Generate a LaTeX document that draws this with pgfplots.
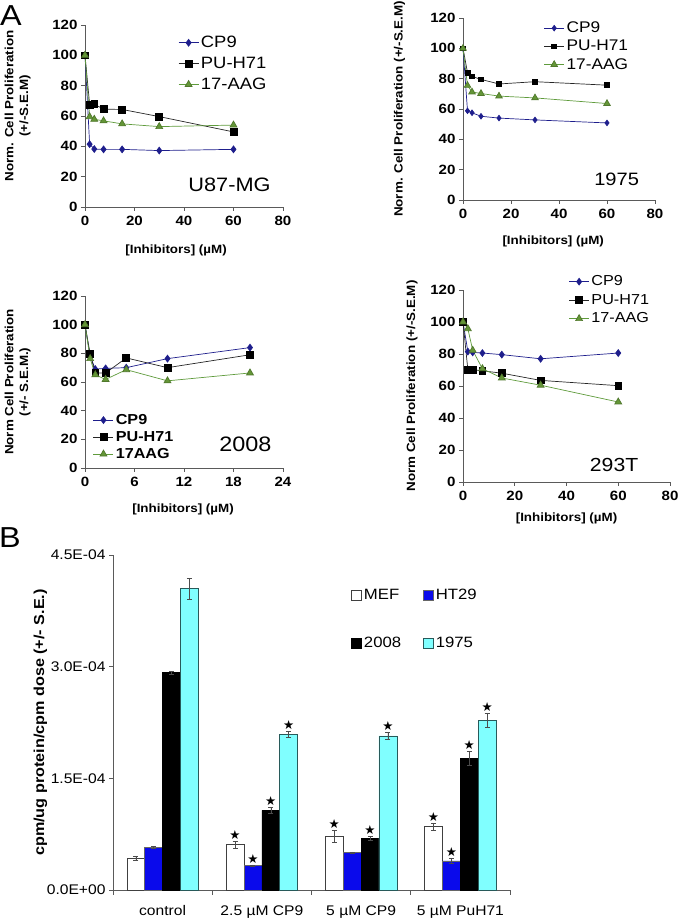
\documentclass[border=0pt]{standalone}
\usepackage{pgfplots}
\pgfplotsset{compat=1.18}
\usepackage{pgfplotstable}
\usepackage{fontspec}
\setmainfont{Liberation Sans}[FakeStretch=1.12]
\newfontfamily\symfont{DejaVu Sans}

\definecolor{cpblue}{RGB}{30,30,140}
\definecolor{aagfill}{RGB}{100,150,55}
\definecolor{aagline}{RGB}{95,155,60}
\definecolor{htblue}{RGB}{10,10,235}
\definecolor{cyanfill}{RGB}{128,255,255}
\definecolor{cyanedge}{RGB}{40,90,90}
\definecolor{axisgray}{RGB}{90,90,90}

\pgfplotsset{
  panelA/.style={
    scale only axis, anchor=south west, clip=false,
    axis x line=bottom, axis y line=left, axis line style={axisgray,-,line width=0.6bp},
    tick align=outside, major tick length=4bp, tick style={axisgray, line width=0.6bp},
    ymin=0, ymax=120, ytick={0,20,...,120},
    /pgf/number format/assume math mode=true,
    ticklabel style={font=\bfseries\fontsize{13.5}{14}\selectfont},
    xticklabel style={yshift=-2bp},
    label style={font=\bfseries\fontsize{12}{15}\selectfont},
    legend cell align=left,
    legend style={draw=none, fill=none, inner sep=0pt, anchor=north west},
    legend image code/.code={\draw[mark repeat=2,mark phase=2,##1] plot coordinates {(0bp,0bp) (10bp,0bp) (20bp,0bp)};},
  },
  cp9/.style={cpblue, line width=0.7bp, mark=diamond*, mark size=3.4bp, mark options={fill=cpblue, draw=cpblue}},
  puh/.style={black!85, line width=0.7bp, mark=square*, mark size=3.4bp, mark options={fill=black, draw=black}},
  aag/.style={aagline, line width=0.7bp, mark=triangle*, mark size=4bp, mark options={fill=aagfill, draw=aagfill!80!black}},
  sqlegend/.style={legend image code/.code={\draw[##1] (0bp,-5bp) rectangle (10bp,5bp);}},
  errsty/.style={error bars/.cd, y dir=both, y explicit,
     error bar style={black!70, line width=0.6bp},
     error mark options={rotate=90, mark size=2.5bp, black!70, line width=0.6bp}},
  starplot/.style={only marks, mark=none, forget plot,
   point meta=explicit symbolic,
   nodes near coords={\ifnum\pgfplotspointmeta=1\relax{\symfont ★}\fi},
   every node near coord/.append style={anchor=south, inner sep=1.5bp, font=\fontsize{12.5}{13}\selectfont, black}},
}

% Panel B data (values in units of 1E-04)
\pgfplotstableread{
x v e s
0.5 0.43 0.025 0
1.5 0.61 0.045 1
2.5 0.72 0.076 1
3.5 0.85 0.045 1
}\mef
\pgfplotstableread{
x v e s
0.5 0.57 0.012 0
1.5 0.33 0.008 1
2.5 0.50 0.012 0
3.5 0.39 0.030 1
}\htt
\pgfplotstableread{
x v e s
0.5 2.92 0.020 0
1.5 1.07 0.045 1
2.5 0.69 0.027 1
3.5 1.77 0.090 1
}\twok
\pgfplotstableread{
x v e s
0.5 4.05 0.140 0
1.5 2.09 0.045 1
2.5 2.07 0.045 1
3.5 2.28 0.090 1
}\nnf

\begin{document}
\begin{tikzpicture}
% ---------- Panel A1: U87-MG
\begin{axis}[panelA, at={(85bp,717bp)}, width=198bp, height=182bp,
  xmin=0, xmax=80, xtick={0,20,...,80},
  xlabel={[Inhibitors] (µM)},
  xlabel style={at={(axis description cs:0.46,-0.24)}, anchor=center},
  ylabel={Norm. Cell Proliferation\\(+/-S.E.M)},
  ylabel style={align=center, at={(axis description cs:-0.34,0.555)}, anchor=center},
  legend style={at={(axis description cs:0.47,0.95)}, font=\fontsize{16.5}{18}\selectfont, row sep=4bp}]
\addplot[cp9] coordinates {(0,100) (1.875,41.4) (3.75,38.2) (7.5,38) (15,38) (30,37.2) (60,38)};
\addplot[puh] coordinates {(0,100) (1.875,67.6) (3.75,67.8) (7.5,64.5) (15,64.3) (30,59.6) (60,49.5)};
\addplot[aag] coordinates {(0,100) (1.875,59.5) (3.75,57.8) (7.5,56.8) (15,54.8) (30,53) (60,54)};
\legend{CP9,PU-H71,17-AAG}
\node[font=\fontsize{19.5}{22}\selectfont] at (rel axis cs:0.73,0.12) {U87-MG};
\end{axis}

% ---------- Panel A2: 1975
\begin{axis}[panelA, at={(463bp,724bp)}, width=192bp, height=182bp,
  xmin=0, xmax=80, xtick={0,20,...,80},
  xlabel={[Inhibitors] (µM)},
  xlabel style={at={(axis description cs:0.47,-0.23)}, anchor=center},
  ylabel={Norm. Cell Proliferation (+/-S.E.M)},
  ylabel style={at={(axis description cs:-0.33,0.5)}, anchor=center},
  legend style={at={(axis description cs:0.42,0.99)}, font=\fontsize{15.5}{16}\selectfont, row sep=2bp}]
\addplot[cp9, mark size=2.8bp] coordinates {(0,100) (1.875,58.8) (3.75,57.5) (7.5,55.2) (15,54) (30,52.8) (60,50.8)};
\addplot[puh, mark size=2.4bp] coordinates {(0,100) (1.875,84) (3.75,81.5) (7.5,79.5) (15,76.5) (30,78) (60,75.7)};
\addplot[aag, mark size=3.8bp] coordinates {(0,100) (1.875,75.5) (3.75,71.2) (7.5,70.2) (15,68.5) (30,67.3) (60,63.6)};
\legend{CP9,PU-H71,17-AAG}
\node[font=\fontsize{18}{20}\selectfont] at (rel axis cs:0.8,0.115) {1975};
\end{axis}

% ---------- Panel A3: 2008
\begin{axis}[panelA, at={(85bp,456bp)}, width=198bp, height=172bp,
  xmin=0, xmax=24, xtick={0,6,...,24},
  xlabel={[Inhibitors] (µM)},
  xlabel style={at={(axis description cs:0.495,-0.24)}, anchor=center},
  ylabel={Norm Cell Proliferation\\(+/- S.E.M.)},
  ylabel style={align=center, at={(axis description cs:-0.34,0.5)}, anchor=center},
  legend style={at={(axis description cs:0.04,0.325)}, font=\bfseries\fontsize{14.5}{16}\selectfont, row sep=1.5bp}]
\addplot[cp9] coordinates {(0,100) (0.625,78) (1.25,69) (2.5,69.5) (5,70) (10,76.3) (20,84)};
\addplot[puh] coordinates {(0,100) (0.625,79.5) (1.25,66.3) (2.5,66.3) (5,76.8) (10,70) (20,79)};
\addplot[aag] coordinates {(0,100) (0.625,76.3) (1.25,65) (2.5,61.8) (5,68.6) (10,60.8) (20,66.3)};
\legend{CP9,PU-H71,17AAG}
\node[font=\fontsize{21}{24}\selectfont] at (rel axis cs:0.81,0.14) {2008};
\end{axis}

% ---------- Panel A4: 293T
\begin{axis}[panelA, at={(463bp,442bp)}, width=207bp, height=192bp,
  xmin=0, xmax=80, xtick={0,20,...,80},
  xlabel={[Inhibitors] (µM)},
  xlabel style={at={(axis description cs:0.5,-0.19)}, anchor=center},
  ylabel={Norm Cell Proliferation (+/-S.E.M)},
  ylabel style={at={(axis description cs:-0.246,0.5)}, anchor=center},
  legend style={at={(axis description cs:0.51,1.085)}, font=\fontsize{14.5}{16}\selectfont, row sep=3bp}]
\addplot[cp9] coordinates {(0,100) (1.875,81.5) (3.75,81) (7.5,80.6) (15,79.6) (30,77) (60,80.6)};
\addplot[puh] coordinates {(0,100) (1.875,70.2) (3.75,70.2) (7.5,69.5) (15,68) (30,63.5) (60,60.2)};
\addplot[aag] coordinates {(0,100) (1.875,95.8) (3.75,82.3) (7.5,70.8) (15,65) (30,60.5) (60,50)};
\legend{CP9,PU-H71,17-AAG}
\node[font=\fontsize{19}{22}\selectfont] at (rel axis cs:0.73,0.09) {293T};
\end{axis}

% ---------- Panel B
\begin{axis}[at={(113bp,34bp)}, anchor=south west, scale only axis, width=397bp, height=335bp,
  clip=false,
  xmin=0, xmax=4, ymin=0, ymax=4.5,
  axis x line=bottom, axis y line=left, axis line style={axisgray,-,line width=0.6bp},
  tick align=outside, tick style={axisgray, line width=0.6bp},
  xtick={0.5,1.5,2.5,3.5},
  xticklabels={control,2.5 µM CP9,5 µM CP9,5 µM PuH71},
  major x tick style={draw=none},
  minor xtick={0,1,2,3,4}, minor tick length=5bp,
  ytick={0,1.5,3,4.5}, major tick length=4bp,
  yticklabels={0.0E+00,1.5E-04,3.0E-04,4.5E-04},
  xticklabel style={font=\fontsize{14}{16}\selectfont, yshift=-8bp},
  yticklabel style={font=\fontsize{14}{16}\selectfont},
  ylabel={cpm/ug protein/cpm dose (+/- S.E.)},
  ylabel style={font=\bfseries\fontsize{14.5}{16}\selectfont, at={(axis description cs:-0.183,0.5)}, anchor=center},
  legend columns=2, legend cell align=left,
  legend style={draw=none, fill=none, inner sep=0pt, anchor=north west,
    at={(axis description cs:0.6,0.905)}, font=\fontsize{15}{16}\selectfont,
    row sep=32bp, /tikz/every even column/.append style={column sep=20bp}},
]
\addplot[ybar, bar width=0.18, bar shift=0, fill=white, draw=black!75, line width=0.6bp, sqlegend, errsty] table[x expr=\thisrow{x}-0.27,y=v,y error=e]{\mef};
\addplot[ybar, bar width=0.18, bar shift=0, fill=htblue, draw=black!60, line width=0.6bp, sqlegend, errsty] table[x expr=\thisrow{x}-0.09,y=v,y error=e]{\htt};
\addplot[ybar, bar width=0.18, bar shift=0, fill=black, draw=black, line width=0.6bp, sqlegend, errsty] table[x expr=\thisrow{x}+0.09,y=v,y error=e]{\twok};
\addplot[ybar, bar width=0.18, bar shift=0, fill=cyanfill, draw=cyanedge, line width=0.6bp, sqlegend, errsty] table[x expr=\thisrow{x}+0.27,y=v,y error=e]{\nnf};
\legend{MEF,HT29,2008,1975}
% significance stars
\addplot[starplot] table[x expr=\thisrow{x}-0.27, y expr=\thisrow{v}+\thisrow{e}, meta=s]{\mef};
\addplot[starplot] table[x expr=\thisrow{x}-0.09, y expr=\thisrow{v}+\thisrow{e}, meta=s]{\htt};
\addplot[starplot] table[x expr=\thisrow{x}+0.09, y expr=\thisrow{v}+\thisrow{e}, meta=s]{\twok};
\addplot[starplot] table[x expr=\thisrow{x}+0.27, y expr=\thisrow{v}+\thisrow{e}, meta=s]{\nnf};
\end{axis}

\node[font=\fontsize{29}{32}\selectfont, anchor=center] at (11bp,908bp) {A};
\node[font=\fontsize{29}{32}\selectfont, anchor=center] at (10bp,386bp) {B};

\pgfresetboundingbox
\path (0,0) rectangle (680bp,924bp);
\end{tikzpicture}
\end{document}
